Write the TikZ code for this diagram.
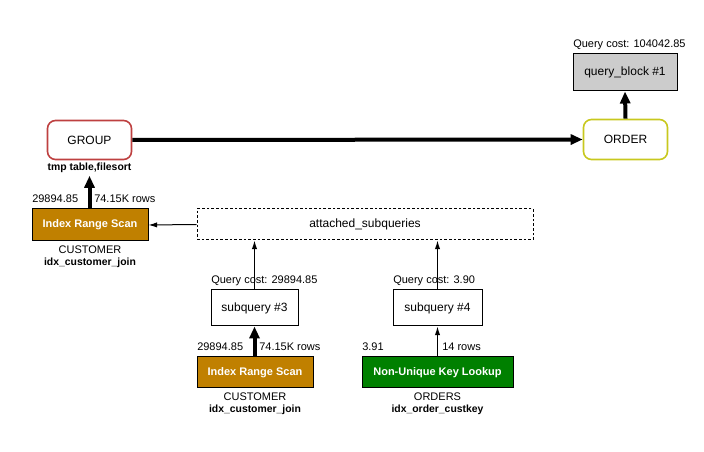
\documentclass[tikz,border=0pt]{standalone}
\usepackage{fontspec}
\setmainfont{Liberation Sans}
\usetikzlibrary{arrows.meta}
\definecolor{grpred}{RGB}{190,64,64}
\definecolor{ordyel}{RGB}{200,200,30}
\definecolor{scanbrown}{RGB}{192,128,0}
\definecolor{lookgreen}{RGB}{0,128,0}
\definecolor{qbgray}{RGB}{204,204,204}
\tikzset{
  box/.style={draw=black, line width=0.75pt, inner sep=0pt, font=\fontsize{9}{10}\selectfont},
  roundbox/.style={draw, rounded corners=6pt, line width=1.2pt, inner sep=0pt, fill=white, font=\fontsize{9}{10}\selectfont},
  opbox/.style={draw=black, line width=0.75pt, inner sep=0pt, text=white, font=\fontsize{8.25}{9}\selectfont\bfseries},
  lbl/.style={inner sep=0pt, font=\fontsize{8.25}{9}\selectfont},
  blbl/.style={inner sep=0pt, font=\fontsize{7.8}{9}\selectfont\bfseries},
  thick arrow/.style={line width=3pt, -{Triangle[length=9pt,width=7.5pt]}},
  thin arrow/.style={line width=0.75pt, -{Latex[length=6.5pt,width=4pt]}},
}
\begin{document}
\begin{tikzpicture}[x=0.75pt,y=-0.75pt]
\useasboundingbox (0,0) rectangle (704,452);
% top nodes
\node[box, fill=qbgray, minimum width=104*0.75pt, minimum height=37*0.75pt] (qb) at (625,72.5) {query\_block \#1};
\node[lbl, anchor=west] (qbcost) at (573,45) {Query cost: 104042.85};
\node[roundbox, draw=ordyel, minimum width=84*0.75pt, minimum height=40*0.75pt] (order) at (625.5,139.5) {ORDER};
\node[roundbox, draw=grpred, minimum width=84*0.75pt, minimum height=39*0.75pt] (group) at (89.5,140) {GROUP};
\node[blbl] (grouplbl) at (89.5,168) {tmp table,filesort};
% left scan
\node[opbox, fill=scanbrown, minimum width=116*0.75pt, minimum height=32*0.75pt] (irsa) at (90,225) {Index Range Scan};
\node[lbl, anchor=west] (irsacost) at (32,199) {29894.85};
\node[lbl, anchor=west] (irsarows) at (94,199) {74.15K rows};
\node[lbl] (irsatab) at (90,250) {CUSTOMER};
\node[blbl] (irsaidx) at (90,262.5) {idx\_customer\_join};
% attached subqueries
\node[box, dashed, dash pattern=on 2pt off 1.5pt, minimum width=336*0.75pt, minimum height=31*0.75pt] (att) at (365,224.5) {attached\_subqueries};
% subqueries
\node[box, minimum width=87*0.75pt, minimum height=36*0.75pt] (sqa) at (254.5,308) {subquery \#3};
\node[lbl, anchor=west] (sqacost) at (211,281) {Query cost: 29894.85};
\node[box, minimum width=89*0.75pt, minimum height=36*0.75pt] (sqb) at (437.5,308) {subquery \#4};
\node[lbl, anchor=west] (sqbcost) at (393,281) {Query cost: 3.90};
% bottom scans
\node[opbox, fill=scanbrown, minimum width=116*0.75pt, minimum height=31*0.75pt] (irsb) at (255,372.5) {Index Range Scan};
\node[lbl, anchor=west] (irsbcost) at (197,347) {29894.85};
\node[lbl, anchor=west] (irsbrows) at (259,347) {74.15K rows};
\node[lbl] (irsbtab) at (255,397) {CUSTOMER};
\node[blbl] (irsbidx) at (255,409.5) {idx\_customer\_join};
\node[opbox, fill=lookgreen, minimum width=151*0.75pt, minimum height=31*0.75pt] (nukl) at (437.5,372.5) {Non-Unique Key Lookup};
\node[lbl, anchor=west] (nuklcost) at (362,347) {3.91};
\node[lbl, anchor=west] (nuklrows) at (442,347) {14 rows};
\node[lbl] (nukltab) at (437.5,397) {ORDERS};
\node[blbl] (nuklidx) at (437.5,409.5) {idx\_order\_custkey};
% connectors
\draw[thick arrow] (order.north) -- (qb.south);
\draw[thick arrow] (group.east) -- (order.west);
\draw[thick arrow] (irsa.north -| grouplbl.south) -- ([yshift=-2pt]grouplbl.south);
\draw[thin arrow] (att.west) -- (irsa.east);
\draw[thin arrow] (sqa.north) -- (sqa.north |- att.south);
\draw[thin arrow] (sqb.north) -- (sqb.north |- att.south);
\draw[thick arrow] (irsb.north -| sqa.south) -- (sqa.south);
\draw[thin arrow] (nukl.north) -- (nukl.north |- sqb.south);
\end{tikzpicture}
\end{document}
